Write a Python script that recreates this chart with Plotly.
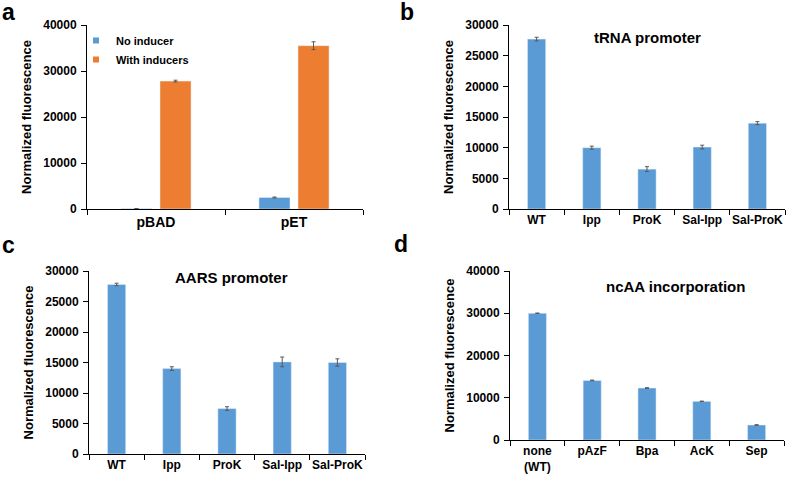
import plotly.graph_objects as go

W, H = 787, 477
FONT = "Arial, Liberation Sans, sans-serif"
BLUE = "#5B9BD5"
ORANGE = "#ED7D31"
ERRC = "#595959"

# ---- data ----
a_categories = ["pBAD", "pET"]
a_no_inducer = [80, 2500]
a_no_inducer_err = [20, 100]
a_with_inducers = [27800, 35500]
a_with_inducers_err = [200, 850]

b_categories = ["WT", "Ipp", "ProK", "Sal-Ipp", "Sal-ProK"]
b_values = [27700, 10000, 6500, 10100, 14000]
b_err = [300, 250, 400, 300, 250]

c_categories = ["WT", "Ipp", "ProK", "Sal-Ipp", "Sal-ProK"]
c_values = [27800, 14000, 7450, 15100, 15000]
c_err = [200, 300, 300, 800, 600]

d_categories = ["none<br>(WT)", "pAzF", "Bpa", "AcK", "Sep"]
d_values = [30000, 14100, 12300, 9150, 3550]
d_err = [50, 80, 80, 60, 80]


def px_x(x):
    return x / W


def px_y(y):
    return 1 - y / H


def err(vals):
    return dict(type="data", array=vals, visible=True, color=ERRC, thickness=1, width=2)


fig = go.Figure()

# panel a (grouped bars with explicit offsets)
fig.add_trace(go.Bar(x=a_categories, y=a_no_inducer, error_y=err(a_no_inducer_err),
                     marker_color=BLUE, width=0.225, offset=-0.254, showlegend=False,
                     xaxis="x", yaxis="y", name="No inducer"))
fig.add_trace(go.Bar(x=a_categories, y=a_with_inducers, error_y=err(a_with_inducers_err),
                     marker_color=ORANGE, width=0.225, offset=0.029, showlegend=False,
                     xaxis="x", yaxis="y", name="With inducers"))
# legend entries
fig.add_trace(go.Scatter(x=[None], y=[None], mode="markers", name="No inducer",
                         marker=dict(symbol="square", size=6, color=BLUE),
                         xaxis="x", yaxis="y"))
fig.add_trace(go.Scatter(x=[None], y=[None], mode="markers", name="With inducers",
                         marker=dict(symbol="square", size=6, color=ORANGE),
                         xaxis="x", yaxis="y"))

fig.add_trace(go.Bar(x=b_categories, y=b_values, error_y=err(b_err), marker_color=BLUE,
                     width=0.33, showlegend=False, xaxis="x2", yaxis="y2"))
fig.add_trace(go.Bar(x=c_categories, y=c_values, error_y=err(c_err), marker_color=BLUE,
                     width=0.33, showlegend=False, xaxis="x3", yaxis="y3"))
fig.add_trace(go.Bar(x=d_categories, y=d_values, error_y=err(d_err), marker_color=BLUE,
                     width=0.33, showlegend=False, xaxis="x4", yaxis="y4"))

axis_common = dict(showline=True, linecolor="black", linewidth=1, showgrid=False,
                   zeroline=False, ticks="outside", ticklen=5, tickcolor="black",
                   mirror=False, automargin=False)

panels = {
    "": dict(x=(87, 363), y=(25, 209), rng=40000, dt=10000, xfs=14),
    "2": dict(x=(509, 785), y=(25, 209), rng=30000, dt=5000, xfs=12),
    "3": dict(x=(89, 365), y=(271, 454), rng=30000, dt=5000, xfs=12),
    "4": dict(x=(510, 784), y=(271, 440), rng=40000, dt=10000, xfs=12),
}

layout_axes = {}
for k, p in panels.items():
    layout_axes["xaxis" + k] = dict(
        axis_common, domain=[px_x(p["x"][0]), px_x(p["x"][1])],
        anchor="y" + k, tickson="boundaries", type="category", tickangle=0,
        tickfont=dict(family=FONT, size=p["xfs"], color="black", weight="bold"),
        fixedrange=True)
    layout_axes["yaxis" + k] = dict(
        axis_common, domain=[px_y(p["y"][1]), px_y(p["y"][0])],
        anchor="x" + k, range=[0, p["rng"]], dtick=p["dt"], tick0=0,
        tickformat="d", ticklabelstandoff=2,
        tickfont=dict(family=FONT, size=12, color="black", weight="bold"),
        title=dict(text="Normalized fluorescence", standoff=8,
                   font=dict(family=FONT, size=13, color="black", weight="bold")),
        fixedrange=True)

annotations = []
for txt, x, y, fs in [("a", 8, 12, 23), ("b", 407, 12, 23), ("c", 8, 245, 23), ("d", 401, 244, 23),
                      ("tRNA promoter", 647, 37, 15), ("AARS promoter", 231, 277, 15),
                      ("ncAA incorporation", 675, 286, 15)]:
    annotations.append(dict(text=txt, x=px_x(x), y=px_y(y), xref="paper", yref="paper",
                            xanchor="center", yanchor="middle", showarrow=False,
                            font=dict(family=FONT, size=fs, color="black", weight="bold")))

fig.update_layout(
    width=W, height=H,
    margin=dict(l=0, r=0, t=0, b=0, autoexpand=False),
    paper_bgcolor="white", plot_bgcolor="white",
    barmode="overlay",
    showlegend=True,
    legend=dict(x=px_x(76), y=px_y(26), xanchor="left", yanchor="top",
                bgcolor="rgba(0,0,0,0)", itemwidth=30, tracegroupgap=0,
                font=dict(family=FONT, size=11, color="black", weight="bold")),
    annotations=annotations,
    **layout_axes,
)

# remove the default 8px page margin so the 787x477 figure fills the window
fig.write_html("out.html", config={"displayModeBar": False},
               post_script="document.body.style.margin='0';")
